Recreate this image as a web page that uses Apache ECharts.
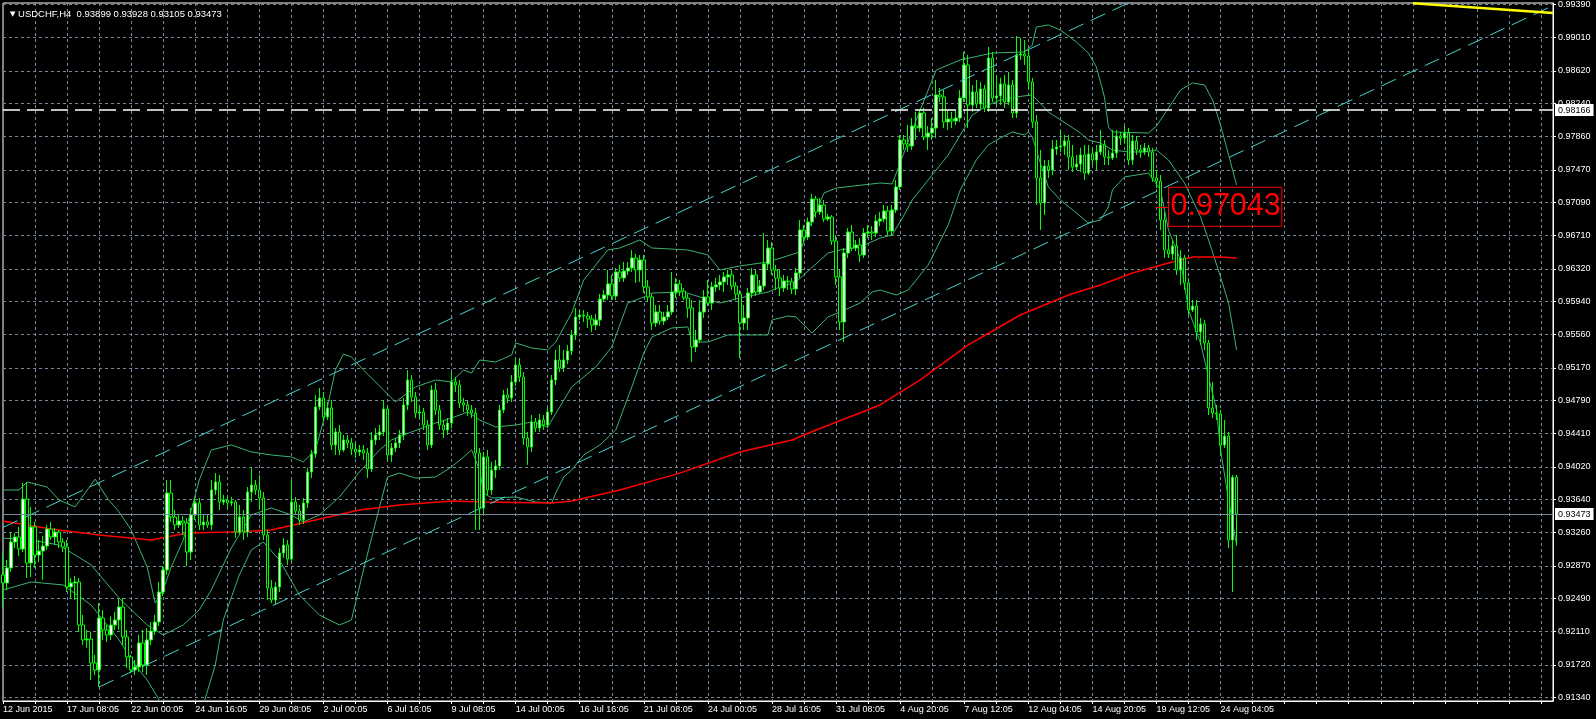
<!DOCTYPE html>
<html><head><meta charset="utf-8">
<script src="https://cdn.jsdelivr.net/npm/echarts@6/dist/echarts.min.js"></script>
<style>html,body{margin:0;padding:0;background:#000;}#c{width:1596px;height:719px;}</style>
</head><body><div id="c"></div>
<script>
const titleText = 'USDCHF,H4  0.93899 0.93928 0.93105 0.93473';
const totalSlots = 388;

const opens = [0.92766,
0.92673,0.92847,0.93149,0.93207,0.93067,0.93648,0.92905,0.93324,0.92998,0.93044,
0.93102,0.93300,0.93207,0.93265,0.93149,0.93091,0.92627,0.92673,0.92685,0.92185,
0.92011,0.92022,0.91743,0.91662,0.92266,0.92127,0.92069,0.92185,0.92243,0.92394,
0.92046,0.91814,0.91662,0.91697,0.91976,0.91720,0.92011,0.92115,0.92220,0.92568,
0.92824,0.93718,0.93440,0.93347,0.93393,0.93370,0.93033,0.93463,0.93602,0.93347,
0.93382,0.93347,0.93753,0.93846,0.93614,0.93637,0.93602,0.93614,0.93265,0.93440,
0.93265,0.93730,0.93811,0.93753,0.93660,0.93230,0.92615,0.92475,0.92627,0.93021,
0.93114,0.92951,0.93614,0.93509,0.93405,0.93602,0.93962,0.94172,0.94718,0.94822,
0.94601,0.94706,0.94276,0.94427,0.94218,0.94334,0.94299,0.94229,0.94195,0.94218,
0.94183,0.93997,0.94334,0.94392,0.94427,0.94694,0.94160,0.94241,0.94299,0.94392,
0.94741,0.95031,0.94834,0.94647,0.94659,0.94508,0.94276,0.94915,0.94682,0.94508,
0.94450,0.94531,0.95008,0.94973,0.94764,0.94741,0.94682,0.94647,0.94183,0.93544,
0.94137,0.93753,0.93985,0.94032,0.94682,0.94857,0.94822,0.95008,0.95205,0.95066,
0.94357,0.94253,0.94543,0.94473,0.94566,0.94508,0.94659,0.95031,0.95263,0.95170,
0.95263,0.95367,0.95554,0.95763,0.95786,0.95774,0.95739,0.95670,0.95728,0.95971,
0.96018,0.96147,0.96006,0.96286,0.96216,0.96297,0.96332,0.96448,0.96309,0.96425,
0.96112,0.95995,0.95693,0.95821,0.95716,0.95763,0.95821,0.96053,0.96147,0.96064,
0.95983,0.95867,0.95415,0.95496,0.95821,0.95995,0.95925,0.96112,0.96135,0.96170,
0.96228,0.96251,0.96123,0.96030,0.95693,0.95751,0.96041,0.96251,0.96053,0.96123,
0.96379,0.96564,0.96309,0.96216,0.96100,0.96181,0.96170,0.96088,0.96274,0.96773,
0.96692,0.96866,0.97133,0.96983,0.97064,0.96901,0.96925,0.96645,0.96228,0.95705,
0.96506,0.96750,0.96564,0.96599,0.96483,0.96738,0.96750,0.96738,0.96877,0.96901,
0.96994,0.96761,0.97006,0.97273,0.97819,0.97773,0.97749,0.97981,0.97958,0.98132,
0.97854,0.97900,0.97958,0.98342,0.98319,0.98028,0.98062,0.98039,0.98074,0.98307,
0.98690,0.98225,0.98377,0.98237,0.98411,0.98190,0.98771,0.98307,0.98330,0.98470,
0.98260,0.98458,0.98132,0.98806,0.98818,0.98794,0.98493,0.98028,0.97377,0.97087,
0.97516,0.97470,0.97714,0.97738,0.97749,0.97807,0.97622,0.97505,0.97540,0.97645,
0.97435,0.97657,0.97586,0.97680,0.97761,0.97622,0.97610,0.97668,0.97865,0.97842,
0.97900,0.97586,0.97807,0.97703,0.97680,0.97726,0.97680,0.97377,0.97342,0.96889,
0.96541,0.96495,0.96587,0.96309,0.96448,0.96158,0.95844,0.95890,0.95589,0.95682,
0.95461,0.94706,0.94647,0.94636,0.94276,0.94380,0.93172,0.93899];

const closes = [
0.92673,0.92847,0.93149,0.93207,0.93067,0.93648,0.92905,0.93324,0.92998,0.93044,
0.93102,0.93300,0.93207,0.93265,0.93149,0.93091,0.92627,0.92673,0.92685,0.92185,
0.92011,0.92022,0.91743,0.91662,0.92266,0.92127,0.92069,0.92185,0.92243,0.92394,
0.92046,0.91814,0.91662,0.91697,0.91976,0.91720,0.92011,0.92115,0.92220,0.92568,
0.92824,0.93718,0.93440,0.93347,0.93393,0.93370,0.93033,0.93463,0.93602,0.93347,
0.93382,0.93347,0.93753,0.93846,0.93614,0.93637,0.93602,0.93614,0.93265,0.93440,
0.93265,0.93730,0.93811,0.93753,0.93660,0.93230,0.92615,0.92475,0.92627,0.93021,
0.93114,0.92951,0.93614,0.93509,0.93405,0.93602,0.93962,0.94172,0.94718,0.94822,
0.94601,0.94706,0.94276,0.94427,0.94218,0.94334,0.94299,0.94229,0.94195,0.94218,
0.94183,0.93997,0.94334,0.94392,0.94427,0.94694,0.94160,0.94241,0.94299,0.94392,
0.94741,0.95031,0.94834,0.94647,0.94659,0.94508,0.94276,0.94915,0.94682,0.94508,
0.94450,0.94531,0.95008,0.94973,0.94764,0.94741,0.94682,0.94647,0.94183,0.93544,
0.94137,0.93753,0.93985,0.94032,0.94682,0.94857,0.94822,0.95008,0.95205,0.95066,
0.94357,0.94253,0.94543,0.94473,0.94566,0.94508,0.94659,0.95031,0.95263,0.95170,
0.95263,0.95367,0.95554,0.95763,0.95786,0.95774,0.95739,0.95670,0.95728,0.95971,
0.96018,0.96147,0.96006,0.96286,0.96216,0.96297,0.96332,0.96448,0.96309,0.96425,
0.96112,0.95995,0.95693,0.95821,0.95716,0.95763,0.95821,0.96053,0.96147,0.96064,
0.95983,0.95867,0.95415,0.95496,0.95821,0.95995,0.95925,0.96112,0.96135,0.96170,
0.96228,0.96251,0.96123,0.96030,0.95693,0.95751,0.96041,0.96251,0.96053,0.96123,
0.96379,0.96564,0.96309,0.96216,0.96100,0.96181,0.96170,0.96088,0.96274,0.96773,
0.96692,0.96866,0.97133,0.96983,0.97064,0.96901,0.96925,0.96645,0.96228,0.95705,
0.96506,0.96750,0.96564,0.96599,0.96483,0.96738,0.96750,0.96738,0.96877,0.96901,
0.96994,0.96761,0.97006,0.97273,0.97819,0.97773,0.97749,0.97981,0.97958,0.98132,
0.97854,0.97900,0.97958,0.98342,0.98319,0.98028,0.98062,0.98039,0.98074,0.98307,
0.98690,0.98225,0.98377,0.98237,0.98411,0.98190,0.98771,0.98307,0.98330,0.98470,
0.98260,0.98458,0.98132,0.98806,0.98818,0.98794,0.98493,0.98028,0.97377,0.97087,
0.97516,0.97470,0.97714,0.97738,0.97749,0.97807,0.97622,0.97505,0.97540,0.97645,
0.97435,0.97657,0.97586,0.97680,0.97761,0.97622,0.97610,0.97668,0.97865,0.97842,
0.97900,0.97586,0.97807,0.97703,0.97680,0.97726,0.97680,0.97377,0.97342,0.96889,
0.96541,0.96495,0.96587,0.96309,0.96448,0.96158,0.95844,0.95890,0.95589,0.95682,
0.95461,0.94706,0.94647,0.94636,0.94276,0.94380,0.93172,0.93899,0.93473];

const highs = [
0.93021,0.92940,0.93265,0.93253,0.93324,0.93834,0.93846,0.93556,0.93382,0.93172,
0.93218,0.93347,0.93382,0.93312,0.93288,0.93195,0.93172,0.92731,0.92754,0.92731,
0.92301,0.92127,0.92104,0.91837,0.92440,0.92359,0.92185,0.92289,0.92336,0.92486,
0.92498,0.92127,0.91837,0.91778,0.92069,0.92127,0.92150,0.92220,0.92301,0.92685,
0.92870,0.93869,0.93869,0.93521,0.93475,0.93451,0.93428,0.93544,0.93660,0.93660,
0.93463,0.93463,0.93869,0.93950,0.93927,0.93695,0.93683,0.93672,0.93637,0.93579,
0.93521,0.93788,0.94021,0.93869,0.93927,0.93730,0.93288,0.92708,0.92685,0.93079,
0.93195,0.93172,0.93869,0.93672,0.93579,0.93660,0.94009,0.94218,0.94857,0.94938,
0.94892,0.94776,0.94799,0.94473,0.94508,0.94392,0.94392,0.94357,0.94311,0.94276,
0.94276,0.94241,0.94427,0.94473,0.94508,0.94799,0.94741,0.94299,0.94357,0.94450,
0.94822,0.95147,0.95089,0.94892,0.94741,0.94706,0.94566,0.94973,0.94996,0.94741,
0.94566,0.94589,0.95124,0.95066,0.95031,0.94822,0.94799,0.94741,0.94706,0.94241,
0.94195,0.94218,0.94079,0.94102,0.94741,0.94915,0.94938,0.95089,0.95286,0.95286,
0.95124,0.94427,0.94624,0.94589,0.94636,0.94624,0.94706,0.95089,0.95379,0.95438,
0.95379,0.95438,0.95612,0.95867,0.95844,0.95844,0.95821,0.95786,0.95798,0.96030,
0.96076,0.96309,0.96251,0.96332,0.96367,0.96402,0.96402,0.96541,0.96495,0.96483,
0.96483,0.96193,0.96030,0.95902,0.95902,0.95821,0.95902,0.96286,0.96216,0.96193,
0.96100,0.96030,0.95960,0.95612,0.95960,0.96076,0.96193,0.96170,0.96216,0.96251,
0.96286,0.96309,0.96309,0.96170,0.96076,0.95902,0.96100,0.96332,0.96309,0.96193,
0.96738,0.96657,0.96634,0.96367,0.96309,0.96251,0.96239,0.96216,0.96332,0.96889,
0.96831,0.96916,0.97192,0.97169,0.97145,0.97122,0.96960,0.96948,0.96715,0.96309,
0.96564,0.96796,0.96831,0.96657,0.96680,0.96796,0.96831,0.96819,0.96948,0.96983,
0.97064,0.97052,0.97064,0.97354,0.97877,0.97877,0.97993,0.98074,0.98144,0.98167,
0.98190,0.97981,0.98074,0.98516,0.98423,0.98400,0.98167,0.98144,0.98167,0.98400,
0.98841,0.98806,0.98458,0.98516,0.98493,0.98458,0.98899,0.98841,0.98574,0.98540,
0.98574,0.98609,0.98516,0.99027,0.99004,0.98980,0.98864,0.98540,0.98109,0.97703,
0.97586,0.97586,0.97819,0.97819,0.97935,0.97877,0.97877,0.97761,0.97645,0.97726,
0.97761,0.97761,0.97726,0.97761,0.97935,0.97819,0.97703,0.97935,0.97935,0.97912,
0.97981,0.97958,0.97877,0.97865,0.97761,0.97784,0.97761,0.97726,0.97470,0.97412,
0.96983,0.96715,0.96657,0.96715,0.96541,0.96483,0.96216,0.95960,0.95960,0.95751,
0.95728,0.95496,0.95008,0.94741,0.94682,0.94566,0.94427,0.93927,0.93928];

const lows = [
0.92394,0.92591,0.92801,0.93079,0.92986,0.93033,0.92731,0.92743,0.92847,0.92917,
0.92708,0.93056,0.93172,0.93114,0.93079,0.93033,0.92568,0.92498,0.92475,0.92104,
0.91953,0.91920,0.91546,0.91604,0.91465,0.92011,0.91988,0.92011,0.92127,0.92127,
0.91953,0.91685,0.91627,0.91604,0.91639,0.91639,0.91604,0.91953,0.92069,0.92173,
0.92521,0.92766,0.93382,0.93288,0.93312,0.93230,0.92870,0.92940,0.93405,0.93288,
0.93288,0.93312,0.93288,0.93695,0.93521,0.93579,0.93544,0.93567,0.93195,0.93230,
0.93172,0.93207,0.93614,0.93695,0.93521,0.93172,0.92475,0.92439,0.92417,0.92568,
0.92963,0.92882,0.92917,0.93463,0.93347,0.93359,0.93544,0.93892,0.94125,0.94682,
0.94543,0.94566,0.94218,0.94160,0.94160,0.94195,0.94241,0.94160,0.94125,0.94148,
0.94102,0.93892,0.93962,0.94276,0.94334,0.94380,0.94102,0.94079,0.94195,0.94241,
0.94334,0.94682,0.94776,0.94589,0.94589,0.94450,0.94218,0.94241,0.94624,0.94450,
0.94357,0.94392,0.94473,0.94892,0.94706,0.94659,0.94612,0.94589,0.93288,0.93288,
0.93463,0.93695,0.93695,0.93892,0.93985,0.94647,0.94764,0.94776,0.94962,0.95008,
0.94276,0.94044,0.94195,0.94427,0.94427,0.94450,0.94473,0.94624,0.94973,0.95124,
0.95124,0.95217,0.95321,0.95496,0.95728,0.95705,0.95635,0.95589,0.95612,0.95658,
0.95937,0.95960,0.95960,0.95960,0.96170,0.96170,0.96251,0.96286,0.96158,0.96170,
0.96041,0.95937,0.95612,0.95647,0.95670,0.95670,0.95728,0.95786,0.95983,0.96006,
0.95960,0.95751,0.95240,0.95356,0.95461,0.95751,0.95890,0.95844,0.96053,0.96076,
0.96053,0.96135,0.96076,0.95960,0.95286,0.95612,0.95612,0.95983,0.96006,0.96030,
0.96076,0.96309,0.96251,0.96076,0.96006,0.96053,0.96076,0.96030,0.96018,0.96216,
0.96634,0.96657,0.96819,0.96916,0.96948,0.96866,0.96877,0.96599,0.96135,0.95612,
0.95473,0.96448,0.96528,0.96528,0.96402,0.96448,0.96680,0.96657,0.96692,0.96819,
0.96866,0.96715,0.96703,0.96971,0.97238,0.97703,0.97680,0.97703,0.97819,0.97912,
0.97819,0.97703,0.97819,0.97842,0.98260,0.97958,0.97935,0.97958,0.97993,0.98028,
0.98260,0.97958,0.98144,0.98190,0.98167,0.98144,0.98144,0.98260,0.98225,0.98225,
0.98190,0.98225,0.98074,0.98074,0.98748,0.98690,0.98400,0.97958,0.97064,0.96773,
0.96948,0.97377,0.97412,0.97645,0.97680,0.97645,0.97470,0.97447,0.97470,0.97447,
0.97354,0.97412,0.97528,0.97470,0.97645,0.97528,0.97528,0.97586,0.97610,0.97761,
0.97796,0.97528,0.97528,0.97645,0.97610,0.97645,0.97622,0.97331,0.97261,0.96773,
0.96448,0.96448,0.96425,0.96251,0.96135,0.96076,0.95786,0.95821,0.95496,0.95438,
0.95379,0.94624,0.94589,0.94566,0.94160,0.94241,0.93079,0.92568,0.93105];

const upperBand = [[0,0.93753],[4,0.93753],[6,0.93846],[11,0.93788],[14,0.93637],[18,0.93556],[23,0.93880],[26,0.93660],[29,0.93498],[32,0.93288],[36,0.92859],[38,0.92440],[40,0.92591],[42,0.92859],[45,0.93172],[47,0.93521],[49,0.93869],[52,0.94218],[57,0.94276],[62,0.94195],[67,0.94160],[72,0.94137],[75,0.94079],[78,0.94218],[81,0.94718],[83,0.95147],[85,0.95333],[87,0.95298],[90,0.95147],[95,0.94915],[98,0.94776],[101,0.94880],[103,0.94950],[108,0.95031],[112,0.95008],[115,0.95147],[117,0.95112],[119,0.95263],[123,0.95240],[127,0.95321],[128,0.95461],[132,0.95403],[136,0.95379],[138,0.95472],[142,0.95809],[145,0.96193],[151,0.96541],[154,0.96564],[159,0.96657],[162,0.96564],[171,0.96541],[176,0.96483],[179,0.96309],[184,0.96355],[191,0.96402],[199,0.96518],[201,0.96773],[205,0.97203],[208,0.97261],[219,0.97319],[222,0.97308],[224,0.97552],[228,0.98051],[233,0.98632],[239,0.98748],[247,0.98829],[255,0.98841],[257,0.98922],[258,0.99131],[261,0.99155],[264,0.99097],[268,0.98957],[271,0.98829],[273,0.98667],[275,0.98319],[276,0.97970],[277,0.97912],[286,0.97900],[288,0.97981],[291,0.98190],[294,0.98400],[297,0.98481],[300,0.98458],[302,0.98283],[304,0.97993],[306,0.97645],[308,0.97296]];

const middleBand = [[0,0.93195],[7,0.93172],[14,0.93114],[22,0.92882],[29,0.92498],[36,0.92185],[40,0.92069],[45,0.92185],[49,0.92359],[52,0.92591],[57,0.93079],[62,0.93463],[67,0.93544],[72,0.93463],[75,0.93382],[79,0.93463],[84,0.93672],[89,0.93962],[94,0.94218],[97,0.94334],[102,0.94427],[108,0.94531],[112,0.94589],[116,0.94659],[119,0.94566],[123,0.94485],[128,0.94508],[132,0.94543],[136,0.94485],[142,0.94950],[148,0.95182],[152,0.95415],[156,0.95925],[160,0.95995],[162,0.96041],[170,0.96053],[174,0.95995],[179,0.95925],[184,0.95983],[191,0.96053],[194,0.96112],[198,0.96170],[206,0.96506],[209,0.96541],[214,0.96576],[219,0.96680],[222,0.96715],[225,0.96948],[227,0.97122],[232,0.97412],[236,0.97645],[239,0.97877],[242,0.98109],[246,0.98225],[249,0.98283],[253,0.98319],[257,0.98342],[261,0.98144],[266,0.97993],[269,0.97900],[271,0.97819],[274,0.97784],[277,0.97703],[281,0.97680],[285,0.97680],[288,0.97703],[291,0.97586],[295,0.97320],[299,0.96925],[301,0.96657],[304,0.96228],[306,0.95925],[308,0.95379]];

const lowerBand = [[0,0.92591],[7,0.92685],[15,0.92650],[22,0.92417],[29,0.92011],[33,0.91720],[36,0.91546],[39,0.91314],[43,0.91140],[48,0.91082],[50,0.91256],[53,0.91720],[55,0.92243],[59,0.92766],[62,0.93056],[65,0.93149],[69,0.92940],[74,0.92533],[79,0.92301],[84,0.92185],[87,0.92243],[90,0.92824],[94,0.93556],[96,0.93904],[99,0.93950],[103,0.93892],[108,0.93904],[112,0.94021],[115,0.94137],[117,0.94218],[119,0.93985],[120,0.93718],[122,0.93660],[128,0.93672],[133,0.93614],[137,0.93602],[138,0.93718],[140,0.93904],[142,0.93985],[145,0.94160],[149,0.94276],[153,0.94450],[157,0.94950],[160,0.95344],[162,0.95530],[167,0.95635],[171,0.95647],[172,0.95472],[176,0.95472],[181,0.95554],[191,0.95554],[192,0.95728],[196,0.95774],[198,0.95763],[202,0.95577],[206,0.95763],[209,0.95821],[214,0.95925],[217,0.96053],[219,0.96076],[223,0.96018],[226,0.96076],[231,0.96367],[236,0.96831],[239,0.97238],[243,0.97586],[246,0.97761],[249,0.97842],[252,0.97912],[255,0.97877],[256,0.97912],[257,0.97854],[259,0.97552],[261,0.97273],[264,0.97122],[268,0.96971],[271,0.96855],[274,0.96889],[276,0.97040],[277,0.97238],[280,0.97389],[286,0.97435],[289,0.97238],[291,0.96773],[294,0.96425],[296,0.95844],[299,0.95461],[301,0.95066],[303,0.94682],[304,0.94218],[306,0.93637],[308,0.93114]];

const maLine = [[0,0.93393],[12,0.93300],[24,0.93230],[37,0.93172],[46,0.93253],[57,0.93265],[67,0.93288],[78,0.93405],[89,0.93521],[99,0.93579],[112,0.93625],[120,0.93614],[137,0.93602],[142,0.93625],[154,0.93753],[169,0.93949],[184,0.94195],[197,0.94334],[203,0.94450],[219,0.94741],[229,0.95031],[241,0.95438],[254,0.95786],[266,0.96018],[274,0.96135],[282,0.96274],[291,0.96390],[297,0.96460],[304,0.96460],[308,0.96448]];

const channelUpper = [[0, 0.93318], [281, 0.99410]];
const channelLower = [[24, 0.91465], [387, 0.99380]];
const yellowTrend = [[352, 0.99408], [387, 0.99294]];
const resistanceLevel = 0.98166;
const bidLevel = 0.93473;
const markedLevel = 0.97043;
const markedSpan = [288, 291];

const yTicks = [0.91340,0.91720,0.92110,0.92490,0.92870,0.93260,0.93640,0.94020,0.94410,0.94790,0.95170,0.95560,0.95940,0.96320,0.96710,0.97090,0.97470,0.97860,0.98240,0.98620,0.99010,0.99390];
const xTickLabels = ['12 Jun 2015','17 Jun 08:05','22 Jun 00:05','24 Jun 16:05','29 Jun 08:05','2 Jul 00:05','6 Jul 16:05','9 Jul 08:05','14 Jul 00:05','16 Jul 16:05','21 Jul 08:05','24 Jul 00:05','28 Jul 16:05','31 Jul 08:05','4 Aug 20:05','7 Aug 12:05','12 Aug 04:05','14 Aug 20:05','19 Aug 12:05','24 Aug 04:05'];
const labelStep = 16;

const FONT = 'Liberation Sans';
const GRID_C = '#778899';
const categories = Array.from({length: totalSlots}, (_, i) => String(i));
const candleData = opens.map((o, i) => [o, closes[i], lows[i], highs[i]]);

const priceBox = (v) => ({
  show: true, position: 'end', distance: 2, formatter: v.toFixed(5),
  color: '#000', backgroundColor: '#fff', padding: [2, 3, 1, 3],
  fontSize: 9, fontFamily: FONT
});
const trend = (pts, color, width, type) => [
  {coord: pts[0], lineStyle: {color: color, width: width, type: type}, label: {show: false}},
  {coord: pts[1]}
];

const chart = echarts.init(document.getElementById('c'), null, {renderer: 'canvas'});
chart.setOption({
  backgroundColor: '#000',
  animation: false,
  title: {
    text: '{t|▼} ' + titleText, left: 5, top: 4,
    textStyle: {color: '#fff', fontSize: 9.5, fontWeight: 'normal', fontFamily: FONT,
      rich: {t: {fontSize: 7, color: '#fff', fontFamily: 'DejaVu Sans'}}}
  },
  grid: {left: 3, right: 43, top: 3, bottom: 18, show: true, borderColor: '#fff', borderWidth: 1, backgroundColor: 'transparent'},
  xAxis: {
    type: 'category', data: categories, boundaryGap: false,
    axisLine: {show: true, lineStyle: {color: '#fff'}},
    axisTick: {show: true, interval: 7, length: 3, lineStyle: {color: '#fff'}},
    axisLabel: {interval: labelStep - 1, align: 'left', margin: 4, color: '#fff', fontSize: 9, fontFamily: FONT,
      formatter: (v, idx) => xTickLabels[idx / labelStep] || ''},
    splitLine: {show: true, interval: 7, lineStyle: {color: GRID_C, type: [3, 3], width: 1}}
  },
  yAxis: {
    type: 'value', position: 'right', min: 0.91302, max: 0.99410, scale: true,
    axisLine: {show: true, lineStyle: {color: '#fff'}},
    axisTick: {show: true, customValues: yTicks, length: 3, lineStyle: {color: '#fff'}},
    axisLabel: {customValues: yTicks, color: '#fff', fontSize: 9, fontFamily: FONT, margin: 5,
      formatter: v => v.toFixed(5)},
    splitLine: {show: true, lineStyle: {color: GRID_C, type: [3, 3], width: 1}}
  },
  series: [
    {type: 'line', name: 'bbUpper', data: upperBand, showSymbol: false, silent: true, z: 2,
      lineStyle: {color: '#3cb371', width: 1}},
    {type: 'line', name: 'bbMiddle', data: middleBand, showSymbol: false, silent: true, z: 2,
      lineStyle: {color: '#3cb371', width: 1}},
    {type: 'line', name: 'bbLower', data: lowerBand, showSymbol: false, silent: true, z: 2,
      lineStyle: {color: '#3cb371', width: 1}},
    {type: 'line', name: 'ma', data: maLine, showSymbol: false, silent: true, z: 3,
      lineStyle: {color: '#ff0000', width: 1.5},
      markLine: {symbol: 'none', silent: true, animation: false, precision: 5, data: [
        trend(channelUpper, '#48d1cc', 1, [16, 8]),
        trend(channelLower, '#48d1cc', 1, [16, 8]),
        trend(yellowTrend, '#ffff00', 2.5, 'solid')
      ]}},
    {type: 'candlestick', name: 'USDCHF', data: candleData, barWidth: 3, z: 4,
      itemStyle: {color: '#ffffff', color0: '#000000', borderColor: '#00ff00', borderColor0: '#00ff00', borderWidth: 1},
      markLine: {symbol: 'none', silent: true, animation: false, precision: 5, data: [
        {yAxis: resistanceLevel, lineStyle: {color: '#fff', type: [17, 7], width: 1.5}, label: priceBox(resistanceLevel)},
        {yAxis: bidLevel, lineStyle: {color: GRID_C, type: 'solid', width: 1}, label: priceBox(bidLevel)},
        [
          {coord: [markedSpan[0], markedLevel], lineStyle: {color: '#ff0000', type: 'solid', width: 1},
            label: {show: true, position: 'end', distance: 0, formatter: markedLevel.toFixed(5), color: '#ff0000',
              fontSize: 30.5, lineHeight: 31, fontFamily: FONT, borderColor: '#ff0000', borderWidth: 1, padding: [5, 1, 3, 2]}},
          {coord: [markedSpan[1], markedLevel]}
        ]
      ]}}
  ]
});
</script>
</body></html>
